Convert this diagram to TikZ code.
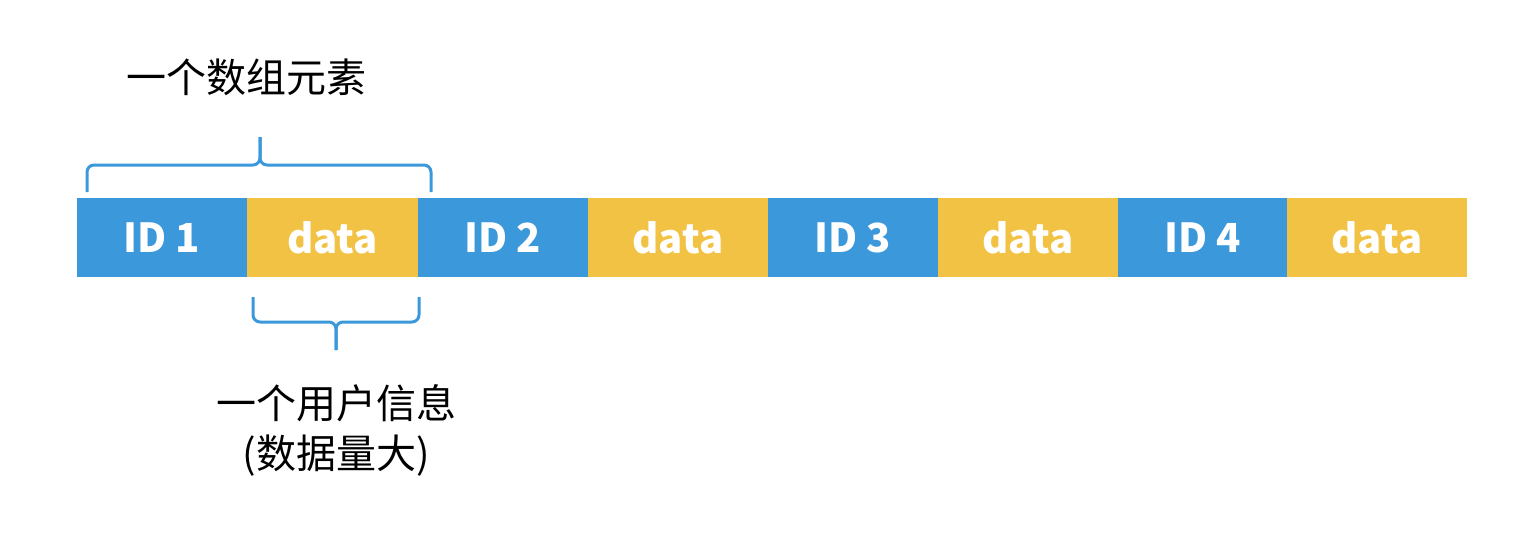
\documentclass[tikz,border=0pt]{standalone}
\usepackage{fontspec}
\newfontfamily\cjk{Noto Sans CJK SC}
\usetikzlibrary{positioning,calc}
\definecolor{idblue}{HTML}{3A98DB}
\definecolor{datayellow}{HTML}{F2C244}
\tikzset{
  cell/.style={inner sep=0pt, outer sep=0pt, minimum height=79pt, text=white,
    font=\cjk\bfseries\fontsize{40}{48}\selectfont},
  idcell/.style={cell, fill=idblue},
  datacell/.style={cell, fill=datayellow},
  brace/.style={draw=idblue, line width=3pt, rounded corners=7pt},
  label/.style={font=\cjk\fontsize{40}{50}\selectfont, align=center}
}
\begin{document}
\begin{tikzpicture}[x=1pt, y=-1pt, node distance=0pt]
    \useasboundingbox (0,0) rectangle (1535,533);
    \node[idcell, minimum width=170pt, anchor=north west] (id1) at (77,198) {ID 1};
    \node[datacell, minimum width=171pt] (d1) [right=of id1] {data};
    \node[idcell, minimum width=170pt] (id2) [right=of d1] {ID 2};
    \node[datacell, minimum width=180pt] (d2) [right=of id2] {data};
    \node[idcell, minimum width=170pt] (id3) [right=of d2] {ID 3};
    \node[datacell, minimum width=180pt] (d3) [right=of id3] {data};
    \node[idcell, minimum width=169pt] (id4) [right=of d3] {ID 4};
    \node[datacell, minimum width=180pt] (d4) [right=of id4] {data};
    % brace over one element
    \coordinate (tl) at ($(id1.north west)+(10,-6)$);
    \coordinate (tr) at ($(d1.north east)+(13,-6)$);
    \coordinate (ttip) at (260,137);
    \draw[brace] (tl) |- (ttip |- 0,165) -- (ttip);
    \draw[brace] (tr) |- (ttip |- 0,165) -- (ttip);
    \node[label] (elem) at (246,77) {一个数组元素};
    % brace under the data
    \coordinate (bl) at ($(d1.south west)+(6,20)$);
    \coordinate (br) at ($(d1.south east)+(1,20)$);
    \coordinate (btip) at (336,350);
    \draw[brace] (bl) |- (btip |- 0,322) -- (btip);
    \draw[brace] (br) |- (btip |- 0,322) -- (btip);
    \node[label] (info) at (336,430) {一个用户信息\\(数据量大)};
\end{tikzpicture}
\end{document}
